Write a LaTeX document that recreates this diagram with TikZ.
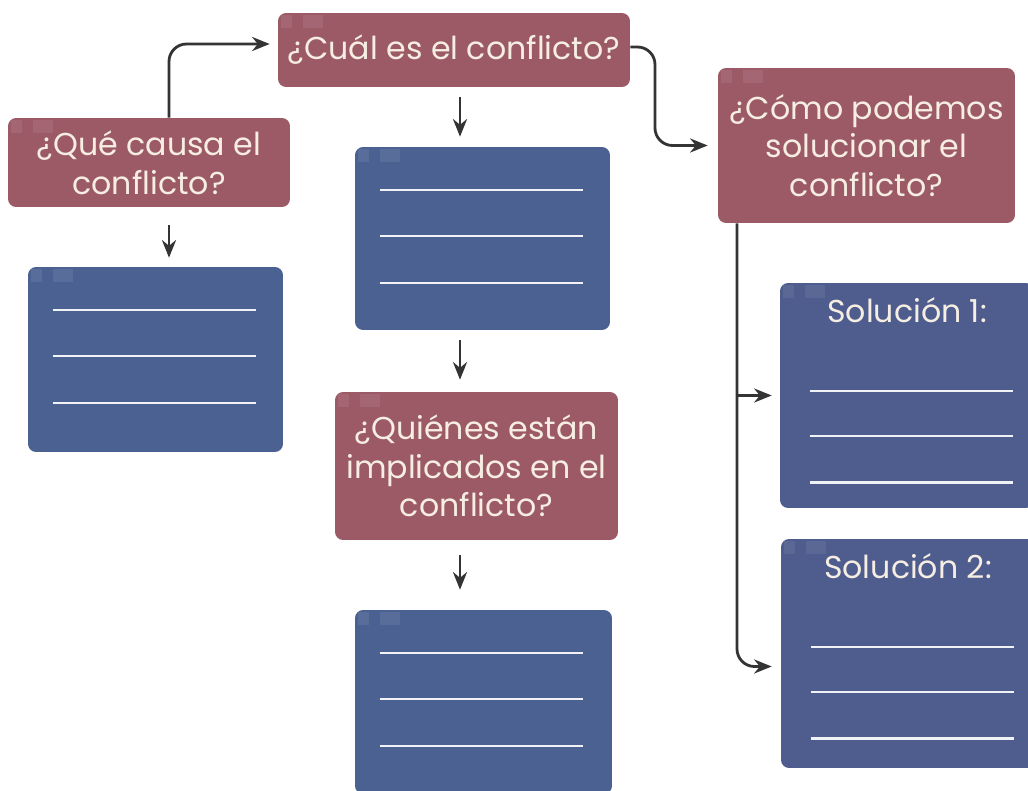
\documentclass[tikz,border=0pt]{standalone}
\usepackage{fontspec}
\setmainfont{Poppins}
\usetikzlibrary{positioning, arrows, arrows.meta}
\definecolor{mauve}{RGB}{156,90,102}
\definecolor{slate}{RGB}{74,97,146}
\definecolor{dusk}{RGB}{78,92,142}
\definecolor{cream}{RGB}{246,238,226}
\definecolor{ink}{RGB}{52,52,52}

\begin{document}
\begin{tikzpicture}[x=0.02cm,y=-0.02cm,>={Stealth[length=10pt,width=8pt]}]
\tikzstyle{askbox}=[rectangle,rounded corners=0.16cm,fill=mauve,text=cream,align=center,font=\fontsize{18}{22}\selectfont,inner sep=0pt]
\tikzstyle{notebox}=[rectangle,rounded corners=0.16cm,fill=slate,minimum width=5.1cm]
\tikzstyle{solbox}=[notebox,fill=dusk,minimum width=5.08cm]
\tikzstyle{soltitle}=[text=cream,font=\fontsize{18}{22}\selectfont,inner sep=0pt,anchor=north,yshift=-0.3cm]
\tikzstyle{conn}=[->,draw=ink,line width=1.6pt]
\tikzstyle{rule}=[draw=white!92!slate,line width=1.3pt]

\useasboundingbox (0,0) rectangle (1028,791);
\clip (0,0) rectangle (1028,791);

%-- Questions --
\node[askbox, minimum width=5.64cm, minimum height=1.78cm] (que) at (149,162.5) {¿Qué causa el\\conflicto?};
\node[askbox, minimum width=7.04cm, minimum height=1.48cm] (cual) at (454,50) {¿Cuál es el conflicto?};
\node[askbox, minimum width=5.94cm, minimum height=3.1cm] (como) at (866.5,145.5) {¿Cómo podemos\\solucionar el\\conflicto?};
\node[askbox, minimum width=5.66cm, minimum height=2.96cm] (quienes) at (476.5,466) {¿Quiénes están\\implicados en el\\conflicto?};

%-- Answer boxes --
\node[notebox, minimum height=3.7cm] (causa) at (155.5,359.5) {};
\node[notebox, minimum height=3.66cm] (conf) at (482.5,238.5) {};
\node[notebox, minimum width=5.14cm, minimum height=3.68cm] (impl) at (483.5,702) {};
\node[solbox, minimum height=4.5cm, label={[soltitle]north:{Solución 1:}}] (sol1) at (907,395.5) {};
\node[solbox, minimum height=4.58cm, label={[soltitle]north:{Solución 2:}}] (sol2) at (908,653.5) {};

%-- corner marks --
\foreach \b in {que,cual,como,quienes,causa,conf,impl,sol1,sol2} {
  \fill[white,opacity=0.08] ([xshift=0.06cm,yshift=-0.04cm]\b.north west) rectangle ++(0.22cm,-0.26cm);
  \fill[white,opacity=0.08] ([xshift=0.5cm,yshift=-0.04cm]\b.north west) rectangle ++(0.4cm,-0.26cm);
}

%-- writing lines --
\foreach \b in {causa,conf,impl}
  \foreach \d in {0.86,1.78,2.72}
    \draw[rule] ([xshift=0.5cm,yshift=-\d cm]\b.north west) -- ++(4.06cm,0);
\foreach \b in {sol1,sol2}
  \foreach \d in {2.16,3.06,4.0}
    \draw[rule] ([xshift=0.6cm,yshift=-\d cm]\b.north west) -- ++(4.06cm,0);

%-- Connectors --
\coordinate (qx) at (169,0);
\coordinate (mx) at (460,0);
\coordinate (rx) at (655,0);
\coordinate (vx) at (737,0);

% que -> cual
\draw[conn, rounded corners=0.35cm, shorten >=0.16cm] (que.north -| qx) |- ([yshift=0.12cm]cual.west);
% cual -> como
\draw[conn, rounded corners=0.35cm, shorten >=0.2cm] ([yshift=0.06cm]cual.east) -| (rx |- como.west) -- (como.west);
% como -> soluciones
\draw[conn, rounded corners=0.35cm, shorten >=0.18cm] (como.south -| vx) |- ([yshift=-0.26cm]sol2.west);
\draw[conn, shorten >=0.16cm] (vx |- sol1.west) -- (sol1.west);

% short arrows
\draw[conn, shorten <=0.36cm, shorten >=0.18cm] (que.south -| qx) -- (causa.north -| qx);
\draw[conn, shorten <=0.2cm, shorten >=0.2cm] (cual.south -| mx) -- (conf.north -| mx);
\draw[conn, shorten <=0.2cm, shorten >=0.24cm] (conf.south -| mx) -- (quienes.north -| mx);
\draw[conn, shorten <=0.3cm, shorten >=0.4cm] (quienes.south -| mx) -- (impl.north -| mx);

\end{tikzpicture}
\end{document}
